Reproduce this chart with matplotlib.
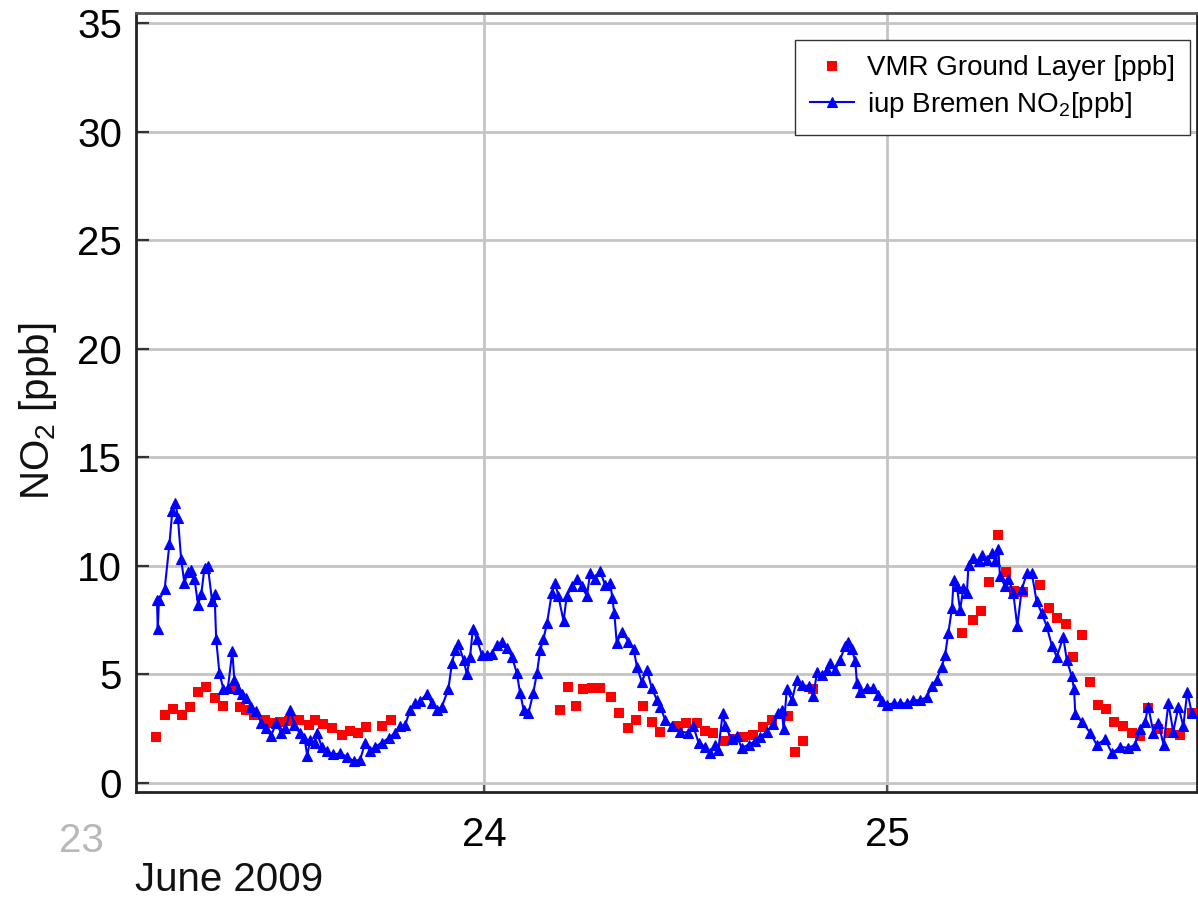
import matplotlib
matplotlib.use("Agg")
import matplotlib.pyplot as plt

plt.rcParams['font.family'] = ['Liberation Sans', 'DejaVu Sans']
plt.rcParams['mathtext.fontset'] = 'custom'
plt.rcParams['mathtext.rm'] = 'Liberation Sans'
plt.rcParams['mathtext.it'] = 'Liberation Sans:italic'

# ---- data: time in days of June 2009, NO2 in ppb ----
iup_time = [
    23.188, 23.190, 23.193, 23.207, 23.219, 23.226, 23.234, 23.240, 23.248, 23.256,
    23.265, 23.273, 23.281, 23.290, 23.298, 23.306, 23.314, 23.325, 23.331, 23.335,
    23.343, 23.353, 23.364, 23.375, 23.380, 23.389, 23.400, 23.409, 23.422, 23.434,
    23.447, 23.459, 23.471, 23.484, 23.496, 23.507, 23.519, 23.529, 23.542, 23.554,
    23.561, 23.568, 23.579, 23.585, 23.597, 23.610, 23.626, 23.643, 23.659, 23.676,
    23.692, 23.705, 23.717, 23.730, 23.746, 23.763, 23.779, 23.792, 23.804, 23.816,
    23.829, 23.841, 23.858, 23.870, 23.883, 23.895, 23.911, 23.920, 23.928, 23.936,
    23.949, 23.957, 23.965, 23.972, 23.982, 23.994, 24.007, 24.019, 24.032, 24.044,
    24.056, 24.069, 24.081, 24.089, 24.098, 24.110, 24.122, 24.131, 24.139, 24.147,
    24.156, 24.168, 24.176, 24.184, 24.197, 24.205, 24.218, 24.230, 24.242, 24.255,
    24.263, 24.275, 24.288, 24.300, 24.313, 24.318, 24.323, 24.329, 24.342, 24.358,
    24.371, 24.379, 24.391, 24.404, 24.416, 24.429, 24.437, 24.449, 24.466, 24.486,
    24.507, 24.519, 24.532, 24.548, 24.561, 24.573, 24.581, 24.592, 24.598, 24.615,
    24.627, 24.639, 24.656, 24.672, 24.685, 24.701, 24.718, 24.730, 24.739, 24.743,
    24.751, 24.764, 24.776, 24.788, 24.805, 24.817, 24.826, 24.838, 24.850, 24.859,
    24.871, 24.883, 24.896, 24.904, 24.912, 24.921, 24.925, 24.933, 24.950, 24.966,
    24.978, 24.987, 24.999, 25.016, 25.032, 25.049, 25.065, 25.082, 25.099, 25.111,
    25.123, 25.136, 25.144, 25.152, 25.161, 25.165, 25.173, 25.181, 25.189, 25.198,
    25.202, 25.214, 25.227, 25.235, 25.247, 25.260, 25.268, 25.276, 25.280, 25.293,
    25.301, 25.313, 25.323, 25.334, 25.347, 25.359, 25.371, 25.384, 25.396, 25.409,
    25.421, 25.437, 25.446, 25.458, 25.464, 25.467, 25.483, 25.504, 25.520, 25.541,
    25.558, 25.578, 25.599, 25.615, 25.628, 25.640, 25.648, 25.661, 25.673, 25.686,
    25.698, 25.710, 25.723, 25.735, 25.745, 25.756,
]
iup_no2 = [
    8.4, 7.1, 8.4, 8.9, 11.0, 12.5, 12.9, 12.2, 10.3, 9.2,
    9.7, 9.8, 9.4, 8.2, 8.7, 9.9, 10.0, 8.35, 8.7, 6.6,
    5.05, 4.3, 4.35, 6.05, 4.75, 4.3, 4.1, 3.9, 3.5, 3.3,
    2.75, 2.5, 2.15, 2.75, 2.3, 2.5, 3.35, 2.65, 2.3, 2.05,
    1.25, 1.95, 1.85, 2.3, 1.65, 1.45, 1.3, 1.35, 1.2, 1.0,
    1.05, 1.85, 1.45, 1.65, 1.85, 2.05, 2.3, 2.6, 2.65, 3.35,
    3.65, 3.75, 4.1, 3.65, 3.35, 3.5, 4.3, 5.5, 6.1, 6.4,
    5.65, 5.0, 5.8, 7.1, 6.6, 5.9, 5.9, 5.95, 6.35, 6.5,
    6.2, 5.8, 5.05, 4.15, 3.35, 3.2, 4.15, 5.05, 6.1, 6.6,
    7.35, 8.75, 9.2, 8.6, 7.45, 8.6, 9.05, 9.4, 9.05, 8.6,
    9.65, 9.4, 9.75, 9.1, 9.2, 8.5, 7.8, 6.45, 6.95, 6.5,
    6.15, 5.35, 4.65, 5.2, 4.35, 3.8, 3.5, 2.9, 2.6, 2.35,
    2.3, 2.6, 1.85, 1.65, 1.35, 1.75, 1.5, 3.2, 2.6, 2.0,
    2.15, 1.6, 1.75, 1.9, 2.1, 2.35, 2.7, 3.2, 3.35, 2.45,
    4.3, 3.8, 4.75, 4.5, 4.45, 4.0, 5.1, 4.95, 5.2, 5.5,
    5.2, 5.65, 6.3, 6.5, 6.15, 5.6, 4.6, 4.2, 4.35, 4.35,
    4.05, 3.75, 3.6, 3.65, 3.65, 3.65, 3.8, 3.8, 3.95, 4.45,
    4.75, 5.35, 5.9, 6.9, 8.05, 9.35, 9.05, 7.95, 8.95, 8.75,
    10.05, 10.35, 10.2, 10.5, 10.25, 10.6, 10.2, 10.75, 9.5, 9.05,
    9.4, 8.75, 7.2, 8.9, 9.65, 9.65, 8.35, 7.8, 7.2, 6.3,
    5.8, 6.7, 5.65, 4.9, 4.3, 3.15, 2.8, 2.3, 1.75, 2.0,
    1.35, 1.65, 1.6, 1.75, 2.45, 2.8, 3.5, 2.3, 2.75, 1.75,
    3.65, 2.35, 3.5, 2.6, 4.2, 3.2,
]

vmr_time = [
    23.186, 23.207, 23.229, 23.250, 23.269, 23.290, 23.310, 23.331, 23.352, 23.376,
    23.393, 23.409, 23.430, 23.455, 23.474, 23.494, 23.516, 23.541, 23.566, 23.581,
    23.600, 23.622, 23.647, 23.666, 23.686, 23.707, 23.746, 23.769,
    24.187, 24.208, 24.228, 24.246, 24.267, 24.288, 24.314, 24.335, 24.356, 24.376,
    24.395, 24.416, 24.437, 24.481, 24.501, 24.528, 24.548, 24.569, 24.594, 24.618,
    24.643, 24.668, 24.693, 24.714, 24.753, 24.772, 24.792, 24.817,
    25.187, 25.212, 25.233, 25.254, 25.274, 25.294, 25.315, 25.338, 25.379, 25.401,
    25.422, 25.443, 25.462, 25.483, 25.504, 25.523, 25.543, 25.563, 25.585, 25.607,
    25.628, 25.648, 25.673, 25.702, 25.727, 25.756,
]
vmr_no2 = [
    2.1, 3.1, 3.4, 3.1, 3.5, 4.2, 4.4, 3.9, 3.55, 4.3,
    3.5, 3.35, 3.1, 2.9, 2.75, 2.8, 2.85, 2.9, 2.65, 2.9,
    2.7, 2.5, 2.2, 2.4, 2.3, 2.55, 2.6, 2.9,
    3.35, 4.4, 3.55, 4.3, 4.35, 4.35, 3.95, 3.2, 2.5, 2.9,
    3.55, 2.8, 2.35, 2.6, 2.75, 2.75, 2.4, 2.3, 1.9, 2.0,
    2.1, 2.2, 2.55, 2.9, 3.05, 1.4, 1.9, 4.3,
    6.9, 7.5, 7.9, 9.25, 11.4, 9.7, 8.85, 8.8, 9.1, 8.05,
    7.6, 7.3, 5.8, 6.8, 4.65, 3.6, 3.4, 2.8, 2.6, 2.3,
    2.15, 3.45, 2.45, 2.3, 2.2, 3.2,
]

y_ticks = [0, 5, 10, 15, 20, 25, 30, 35]
x_ticks = [24, 25]
x_tick_labels = ['24', '25']

FS = 29

# ---- figure ----
W, H = 1198, 898
fig = plt.figure(figsize=(W / 100, H / 100), dpi=100)
ax = fig.add_axes([136 / W, 1 - 792 / H, (1197 - 136) / W, (792 - 13) / H])

ax.plot(vmr_time, vmr_no2, linestyle='none', marker='s', markersize=7.8,
        color='#ff0000', markeredgewidth=0, label='VMR Ground Layer [ppb]', zorder=3)
ax.plot(iup_time, iup_no2, linestyle='-', linewidth=1.5, color='#0000ff',
        marker='^', markersize=7.5, markeredgewidth=0.8, markeredgecolor='#0000ff',
        label='iup Bremen NO$_2$[ppb]', zorder=4)

ax.set_xlim(23.136, 25.769)
ax.set_ylim(-0.43, 35.46)
ax.set_yticks(y_ticks)
ax.set_xticks(x_ticks)
ax.set_xticklabels(x_tick_labels)

ax.grid(True, color='#c4c4c4', linewidth=2.0, zorder=0)
ax.set_axisbelow(True)

ax.tick_params(axis='y', direction='in', length=9, width=1.6, color='#333333',
               labelsize=FS, pad=10)
ax.tick_params(axis='x', direction='in', length=5, width=1.6, color='#555555',
               labelsize=FS, pad=17)
for side in ['left', 'bottom', 'top', 'right']:
    ax.spines[side].set_color('#222222')
    ax.spines[side].set_linewidth(2.0)
ax.spines['top'].set_color('#555555')

# grey "23" label outside the axis range
ax.text(23.0, -(822 - 792) / 779, '23', transform=ax.get_xaxis_transform(),
        fontsize=FS, color='#b8b8b8', ha='center', va='top', clip_on=False)
fig.text(135 / W, 1 - 880 / H, 'June 2009', fontsize=FS, ha='left', va='center',
         color='#111111')
fig.text(38 / W, 1 - 411 / H, 'NO$_2$ [ppb]', fontsize=FS, rotation=90,
         ha='center', va='center', color='#111111')

leg = ax.legend(loc='upper right', bbox_to_anchor=((1190 - 136) / 1061, (792 - 40) / 779),
                borderaxespad=0, fontsize=20, frameon=True, fancybox=False,
                edgecolor='#333333', framealpha=1, handlelength=1.6,
                borderpad=0.55, labelspacing=0.3, handletextpad=0.45)
leg.get_frame().set_linewidth(1.0)

fig.savefig('out.png', dpi=100)
